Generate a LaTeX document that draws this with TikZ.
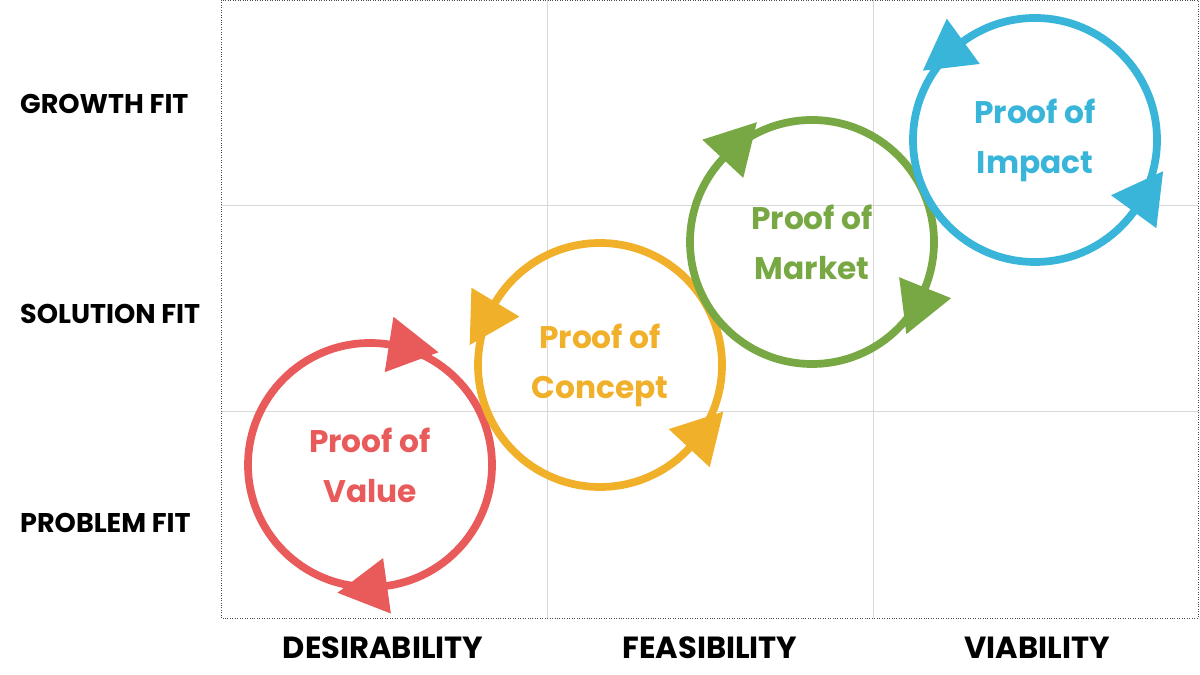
\documentclass[tikz,border=0pt]{standalone}
\usepackage{fontspec}
\setmainfont{Poppins}
\usetikzlibrary{calc}
\definecolor{valred}{HTML}{E95A5A}
\definecolor{conyellow}{HTML}{F0B02A}
\definecolor{markgreen}{HTML}{78A844}
\definecolor{impblue}{HTML}{3AB5DA}
\definecolor{gridgray}{HTML}{D9D9D9}
\begin{document}
\begin{tikzpicture}[x=0.02cm,y=0.02cm]
	\tikzset{ring/.style={line width=4.4pt},
		rowlabel/.style={anchor=west,font=\bfseries\fontsize{15.4}{17}\selectfont},
		collabel/.style={font=\bfseries\fontsize{17.4}{19}\selectfont},
		ringtext/.style={align=center,font=\bfseries\fontsize{17.8}{28.5}\selectfont}}
	% \tip{color}{centre}{angle}{sense: -1 cw, 1 ccw}
	\newcommand\tip[4]{\fill[#1] ($(#2)+(#3:122)+(#3+#4*90:50)$) -- ($(#2)+(#3:150)$) -- ($(#2)+(#3:94)$) -- cycle;}
	\useasboundingbox (0,0) rectangle (1200,675);
	% grid
	\draw[gridgray] (547,57) -- (547,675) (873,57) -- (873,675)
		(221,470) -- (1198,470) (221,264) -- (1198,264);
	\draw[densely dotted,black!70] (221,57) rectangle (1198,675);
	% axis labels
	\node[rowlabel] (growth) at (14,571) {GROWTH FIT};
	\node[rowlabel] (solution) at (14,361) {SOLUTION FIT};
	\node[rowlabel] (problem) at (14,152) {PROBLEM FIT};
	\node[collabel] (desir) at (383,27) {DESIRABILITY};
	\node[collabel] (feas) at (710,27) {FEASIBILITY};
	\node[collabel] (viab) at (1037,27) {VIABILITY};
	% cycles
	\coordinate (V) at (370,210);
	\coordinate (C) at (600,310);
	\coordinate (M) at (812,433);
	\coordinate (I) at (1035,535);
	\draw[ring,valred] (V) circle (122);
	\draw[ring,conyellow] (C) circle (122);
	\draw[ring,markgreen] (M) circle (122);
	\draw[ring,impblue] (I) circle (122);
	\tip{valred}{V}{81}{-1} \tip{valred}{V}{-82}{-1}
	\tip{conyellow}{C}{149}{1} \tip{conyellow}{C}{-43}{1}
	\tip{markgreen}{M}{137}{-1} \tip{markgreen}{M}{-22}{-1}
	\tip{impblue}{I}{126}{1} \tip{impblue}{I}{-36}{1}
	\node[ringtext,valred] (value) at (V) {Proof of\\Value};
	\node[ringtext,conyellow] (concept) at (C) {Proof of\\Concept};
	\node[ringtext,markgreen] (market) at (M) {Proof of\\Market};
	\node[ringtext,impblue] (impact) at (I) {Proof of\\Impact};
\end{tikzpicture}
\end{document}
